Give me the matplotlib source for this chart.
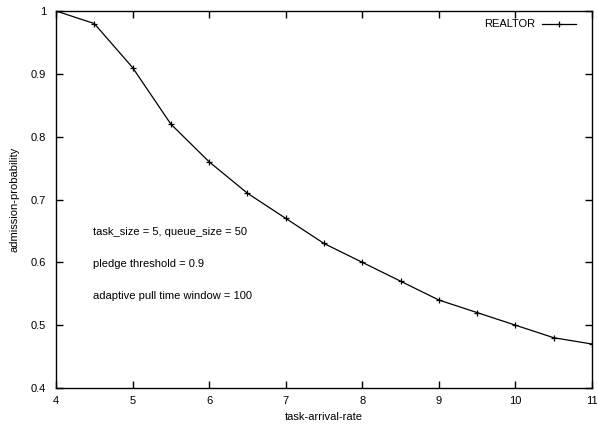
import matplotlib
matplotlib.use("Agg")
import matplotlib.pyplot as plt

plt.rcParams["font.family"] = ["Liberation Sans", "DejaVu Sans"]

arrival_rate = [4, 4.5, 5, 5.5, 6, 6.5, 7, 7.5, 8, 8.5, 9, 9.5, 10, 10.5, 11]
admission = [1.0, 0.98, 0.91, 0.82, 0.76, 0.71, 0.67, 0.63, 0.60, 0.57, 0.54, 0.52, 0.50, 0.48, 0.47]
x_ticks = [4, 5, 6, 7, 8, 9, 10, 11]
y_ticks = [0.4, 0.5, 0.6, 0.7, 0.8, 0.9, 1.0]
y_labels = ["0.4", "0.5", "0.6", "0.7", "0.8", "0.9", "1"]
notes = ["task_size = 5, queue_size = 50", "pledge threshold = 0.9", "adaptive pull time window = 100"]

fig = plt.figure(figsize=(5.97, 4.25), dpi=100)
ax = fig.add_axes([56 / 597, 1 - 388 / 425, 536 / 597, 377 / 425])

ax.plot(arrival_rate, admission, color="black", lw=0.9, marker="+", ms=5, mew=0.9, label="REALTOR")

ax.set_xlim(4, 11)
ax.set_ylim(0.4, 1.0)
ax.set_xticks(x_ticks)
ax.set_yticks(y_ticks)
ax.set_yticklabels(y_labels)
ax.tick_params(direction="in", top=True, right=True, length=5, width=1, labelsize=8)
ax.tick_params(axis="x", pad=6)
ax.tick_params(axis="y", pad=7)
for s in ax.spines.values():
    s.set_linewidth(1.0)

ax.set_xlabel("task-arrival-rate", fontsize=8, labelpad=4)
ax.set_ylabel("admission-probability", fontsize=8, labelpad=8)

for i, t in enumerate(notes):
    ax.text(4.48, 0.648 - i * 0.051, t, fontsize=8, va="center", ha="left")

# legend placed like gnuplot's top-right key
leg = ax.legend(loc="upper right", bbox_to_anchor=(1 - 12 / 536, 1 - 4 / 377), fontsize=8,
                frameon=False, markerfirst=False, handlelength=3.0,
                borderaxespad=0, handletextpad=0.6)

fig.savefig("out.png", dpi=100)
